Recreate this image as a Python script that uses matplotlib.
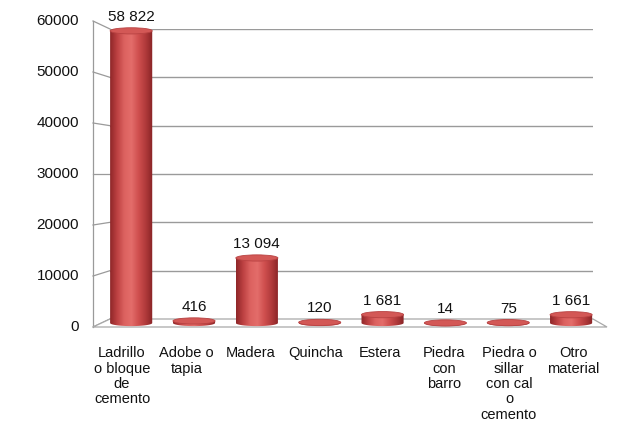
import numpy as np
import matplotlib
matplotlib.use("Agg")
import matplotlib.pyplot as plt
from matplotlib.patches import Ellipse, Polygon, PathPatch
from matplotlib.path import Path
from matplotlib.colors import LinearSegmentedColormap

plt.rcParams['font.family'] = ['Liberation Sans', 'DejaVu Sans']

categories = ["Ladrillo\no bloque\nde\ncemento", "Adobe o\ntapia", "Madera",
              "Quincha", "Estera", "Piedra\ncon\nbarro",
              "Piedra o\nsillar\ncon cal\no\ncemento", "Otro\nmaterial"]
values = [58822, 416, 13094, 120, 1681, 14, 75, 1661]
value_labels = ["58 822", "416", "13 094", "120", "1 681", "14", "75", "1 661"]
yticks = [0, 10000, 20000, 30000, 40000, 50000, 60000]

W, H = 624, 428
fig = plt.figure(figsize=(W / 100, H / 100), dpi=100)


def fbox(x0, x1, ytop, ybot):
    return [x0 / W, 1 - ybot / H, (x1 - x0) / W, (ybot - ytop) / H]


def px(x, y):
    return (x / W, 1 - y / H)


# back wall with gridlines
back = fig.add_axes(fbox(110, 593, 29, 319))
back.set_zorder(-2)
back.set_xlim(0, 1)
back.set_ylim(0, 60000)
back.axis('off')
for t in yticks[1:]:
    back.axhline(t, color='#9a9a9a', lw=1)

# side wall ticks + labels (front plane)
for t in yticks:
    yb = 319 - t / 60000 * 290
    yf = 327 - t / 60000 * 306
    (xa, ya), (xb, yb2) = px(93, yf), px(110, yb)
    fig.add_artist(plt.Line2D([xa, xb], [ya, yb2], color='#9a9a9a', lw=0.9,
                              zorder=-1))
    fig.text(79 / W, 1 - yf / H, str(t), ha='right', va='center',
             fontsize=11, color='#111111')

fig.add_artist(plt.Line2D([93 / W, 93 / W], [1 - 21 / H, 1 - 327 / H],
                          color='#9a9a9a', lw=0.9, zorder=-1))
floor = Polygon([px(93, 327), px(110, 319), px(593, 319), px(607, 327)],
                closed=True, facecolor='white', edgecolor='#a8a8a8', lw=0.9,
                transform=fig.transFigure, zorder=-1)
fig.add_artist(floor)

# category labels on the front plane
front = fig.add_axes(fbox(93, 607, 21, 327))
front.patch.set_alpha(0)
for s in front.spines.values():
    s.set_visible(False)
front.set_yticks([])
front.set_xlim(-0.45, 7.52)
front.set_xticks(range(len(categories)))
front.set_xticklabels(categories, fontsize=10.5, linespacing=1.12, color='#111111')
front.tick_params(axis='x', length=0, pad=14)

# cylinders (mid depth)
ymin = -1500
ax = fig.add_axes(fbox(101, 600, 25, 323 - ymin / 60000 * 298))
ax.set_zorder(1)
ax.patch.set_alpha(0)
ax.axis('off')

cmap = LinearSegmentedColormap.from_list(
    'cyl', ['#8e2628', '#bd4142', '#dc6260', '#e36d6a', '#cf4f4e', '#b03a3b', '#872325'])
grad = np.linspace(0, 1, 256).reshape(1, -1)

bw = 0.67
eh = 1250
t = np.linspace(np.pi, 2 * np.pi, 40)
for i, v in enumerate(values):
    x0, x1 = i - bw / 2, i + bw / 2
    arc = np.column_stack([i + bw / 2 * np.cos(t), eh / 2 * np.sin(t)])
    verts = np.vstack([[x0, v], arc, [x1, v], [x0, v]])
    clip = PathPatch(Path(verts), facecolor='none', edgecolor='none',
                     transform=ax.transData)
    ax.add_patch(clip)
    im = ax.imshow(grad, cmap=cmap, aspect='auto',
                   extent=[x0, x1, -eh, v], zorder=2)
    im.set_clip_path(clip)
    ax.add_patch(Ellipse((i, v), bw, eh, facecolor='#d35856',
                         edgecolor='#b84242', lw=0.6, zorder=3))
    ax.annotate(value_labels[i], (i, v), xytext=(0, 5),
                textcoords='offset points', ha='center', va='bottom',
                fontsize=11, color='#111111', zorder=4)

ax.set_xlim(-0.48, 7.46)
ax.set_ylim(ymin, 60000)

fig.savefig('out.png', dpi=100)
